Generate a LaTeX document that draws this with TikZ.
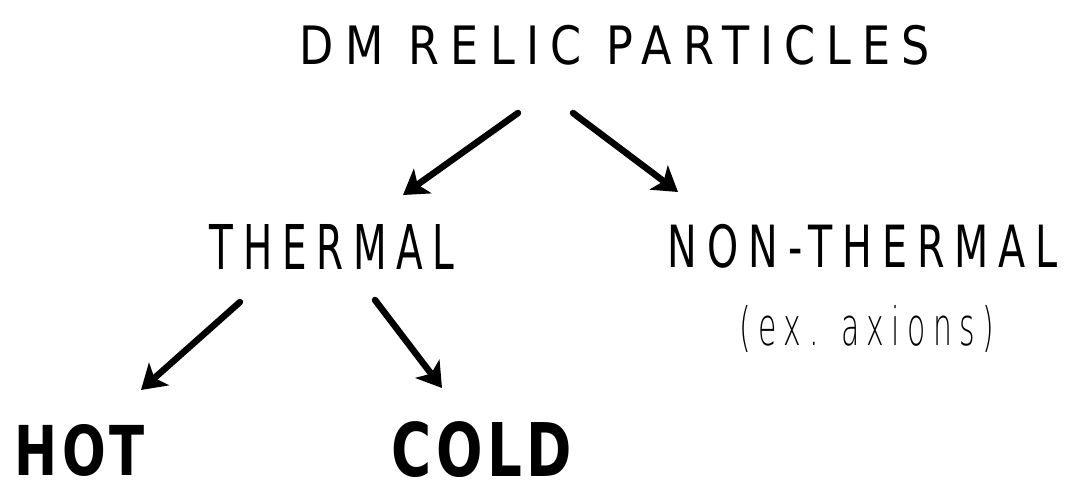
\documentclass[tikz,border=0pt]{standalone}
\usepackage{fontspec}
\usepackage{graphicx}
\newfontfamily\hand[LetterSpace=25]{DejaVu Sans ExtraLight}
\newfontfamily\handm[LetterSpace=25]{DejaVu Sans}
\newfontfamily\handb[LetterSpace=8]{DejaVu Sans}
\usetikzlibrary{arrows.meta}
\tikzset{
  lbl/.style={inner sep=0pt, anchor=center, text=black},
  arr/.style={line width=6.5pt, line cap=round, -{Stealth[length=24pt,width=30pt,inset=6pt]}, black},
}
\begin{document}
\begin{tikzpicture}[x=1pt,y=-1pt]
\fill[white] (0,0) rectangle (1072,494);
\useasboundingbox (0,0) rectangle (1072,494);
\node[lbl] (dm) at (615,45) {\resizebox*{630pt}{40pt}{\handm DM RELIC PARTICLES}};
\node[lbl] (th) at (332,247) {\resizebox*{245pt}{45pt}{\handm THERMAL}};
\node[lbl] (nt) at (863,246) {\resizebox*{390pt}{44pt}{\handm NON-THERMAL}};
\node[lbl] (ax) at (867,329) {\resizebox*{255pt}{47pt}{\hand (ex. axions)}};
\node[lbl] (hot) at (80,450) {\resizebox*{130pt}{52pt}{\handb\bfseries HOT}};
\node[lbl] (cold) at (482,450) {\resizebox*{180pt}{56pt}{\handb\bfseries COLD}};
\coordinate (a1s) at (518,113); \coordinate (a1e) at (403,195);
\coordinate (a2s) at (573,113); \coordinate (a2e) at (678,192);
\coordinate (a3s) at (240,302); \coordinate (a3e) at (141,390);
\coordinate (a4s) at (375,300); \coordinate (a4e) at (442,388);
\draw[arr] (a1s) -- (a1e);
\draw[arr] (a2s) -- (a2e);
\draw[arr] (a3s) -- (a3e);
\draw[arr] (a4s) -- (a4e);
\end{tikzpicture}
\end{document}
